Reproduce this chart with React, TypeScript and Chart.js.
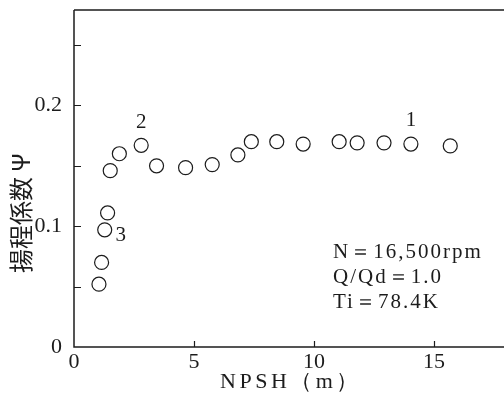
import React, { useEffect, useRef } from 'react';
import { Chart, registerables } from 'chart.js';

Chart.register(...registerables);

// NPSH (m)
const npsh = [1.04, 1.15, 1.28, 1.40, 1.51, 1.89, 2.80, 3.44, 4.65, 5.76, 6.83, 7.39, 8.45, 9.55, 11.05, 11.80, 12.92, 14.04, 15.68];
// head coefficient psi
const psi = [0.052, 0.070, 0.097, 0.111, 0.146, 0.160, 0.167, 0.150, 0.1485, 0.151, 0.159, 0.170, 0.170, 0.168, 0.170, 0.169, 0.169, 0.168, 0.1665];

const xLabelValues = [0, 5, 10, 15];
const yLabelValues = [0, 0.1, 0.2];
const pointTags = ['3', '2', '1'];
const pointTagIndex = [2, 6, 17];
const yTitle = '揚程係数 Ψ';
const xTitle = 'NPSH（m）';
const notes = ['N＝16,500rpm', 'Q/Qd＝1.0', 'Ti＝78.4K'];

const SERIF = '"Liberation Serif", "DejaVu Serif", serif';
const INK = '#1c1c1c';

const tagOffset: Record<string, [number, number]> = {
  '1': [0, -24],
  '2': [0, -23],
  '3': [16, 6],
};

const decor = {
  id: 'decor',
  afterDraw(chart: any) {
    const { ctx, chartArea: a, scales } = chart;
    const xs = scales.x;
    const ys = scales.y;
    ctx.save();
    ctx.strokeStyle = INK;
    ctx.lineWidth = 1.5;
    ctx.beginPath();
    ctx.moveTo(a.left, a.top);
    ctx.lineTo(a.right, a.top);
    ctx.moveTo(a.left, a.top);
    ctx.lineTo(a.left, a.bottom);
    ctx.lineTo(a.right, a.bottom);
    ctx.stroke();
    ctx.lineWidth = 1.2;
    ctx.beginPath();
    ys.ticks.forEach((t: any) => {
      if (t.value > 0.001) {
        const y = Math.round(ys.getPixelForValue(t.value)) + 0.5;
        ctx.moveTo(a.left, y);
        ctx.lineTo(a.left + 7, y);
      }
    });
    xs.ticks.forEach((t: any) => {
      if (t.value > 0.001) {
        const x = Math.round(xs.getPixelForValue(t.value)) + 0.5;
        ctx.moveTo(x, a.bottom);
        ctx.lineTo(x, a.bottom - 6);
      }
    });
    ctx.stroke();

    // point tags
    ctx.fillStyle = INK;
    ctx.font = `21px ${SERIF}`;
    ctx.textAlign = 'center';
    ctx.textBaseline = 'middle';
    pointTags.forEach((tag, i) => {
      const idx = pointTagIndex[i];
      const px = xs.getPixelForValue(npsh[idx]);
      const py = ys.getPixelForValue(psi[idx]);
      const [dx, dy] = tagOffset[tag];
      ctx.fillText(tag, px + dx, py + dy);
    });

    // y title
    ctx.save();
    ctx.translate(21, 213);
    ctx.rotate(-Math.PI / 2);
    ctx.font = '24px "Noto Sans CJK JP", sans-serif';
    ctx.textAlign = 'center';
    ctx.textBaseline = 'middle';
    ctx.fillText(yTitle, 0, 0);
    ctx.restore();

    // x title
    ctx.save();
    ctx.font = `22px ${SERIF}`;
    (ctx as any).letterSpacing = '3.5px';
    ctx.textAlign = 'center';
    ctx.textBaseline = 'alphabetic';
    ctx.fillText(xTitle, (a.left + a.right) / 2 + 2, 388);
    ctx.restore();

    // notes
    ctx.font = `21px ${SERIF}`;
    (ctx as any).letterSpacing = '2px';
    ctx.textAlign = 'left';
    ctx.textBaseline = 'alphabetic';
    notes.forEach((n, i) => ctx.fillText(n, 333, 258 + i * 25));
    ctx.restore();
  },
};

export default function App() {
  const ref = useRef<HTMLCanvasElement>(null);
  useEffect(() => {
    if (!ref.current) return;
    const chart = new Chart(ref.current, {
      type: 'scatter',
      data: {
        datasets: [
          {
            data: npsh.map((x, i) => ({ x, y: psi[i] })),
            pointStyle: 'circle',
            pointRadius: 7,
            pointBorderWidth: 1.2,
            borderColor: INK,
            backgroundColor: 'rgba(255,255,255,0)',
          },
        ],
      },
      options: {
        responsive: false,
        animation: false,
        layout: { autoPadding: false, padding: { top: 10, left: 0, right: 0, bottom: 0 } },
        plugins: { legend: { display: false }, tooltip: { enabled: false } },
        scales: {
          x: {
            type: 'linear',
            min: 0,
            max: 17.92,
            afterFit: (s: any) => {
              s.height = 61;
              s.paddingLeft = 0;
              s.paddingRight = 0;
            },
            grid: { display: false, drawTicks: false, tickLength: 0 },
            border: { display: false },
            ticks: {
              stepSize: 5,
              includeBounds: false,
              color: INK,
              padding: 2,
              maxRotation: 0,
              font: { family: SERIF, size: 22 },
              callback: (v: any) => {
                const n = Number(v);
                return xLabelValues.some((t) => Math.abs(t - n) < 1e-6) ? String(Math.round(n)) : '';
              },
            },
          },
          y: {
            type: 'linear',
            min: 0,
            max: 0.279,
            afterFit: (s: any) => {
              s.width = 74;
              s.paddingTop = 0;
              s.paddingBottom = 0;
            },
            grid: { display: false, drawTicks: false, tickLength: 0 },
            border: { display: false },
            ticks: {
              stepSize: 0.05,
              includeBounds: false,
              color: INK,
              padding: 12,
              font: { family: SERIF, size: 22 },
              callback: (v: any) => {
                const n = Number(v);
                const hit = yLabelValues.find((t) => Math.abs(t - n) < 1e-6);
                return hit === undefined ? '' : hit === 0 ? '0' : hit.toFixed(1);
              },
            },
          },
        },
      },
      plugins: [decor],
    });
    return () => chart.destroy();
  }, []);
  return (
    <div style={{ position: 'fixed', left: 0, top: 0, width: 504, height: 408, background: '#fff' }}>
      <canvas ref={ref} width={504} height={408} />
    </div>
  );
}
